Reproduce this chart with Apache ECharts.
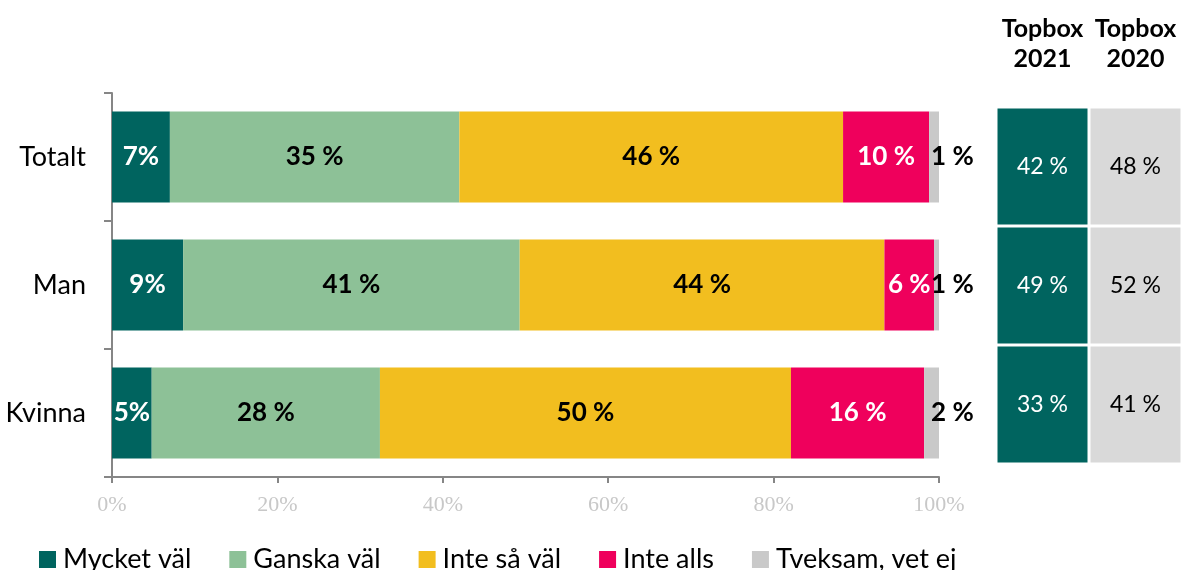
<!DOCTYPE html>
<html>
<head>
<meta charset="utf-8">
<script src="https://cdn.jsdelivr.net/npm/echarts@6/dist/echarts.min.js"></script>
<style>
  * { margin: 0; padding: 0; }
  body { background: #fff; }
</style>
</head>
<body>
<div id="main" style="width:1182px;height:570px;background:white;"></div>
<script>
// kategorier (uppifrån och ner)
var categories = ["Totalt", "Man", "Kvinna"];
var seriesNames = ["Mycket väl", "Ganska väl", "Inte så väl", "Inte alls", "Tveksam, vet ej"];
// andelar i procent
var mycketVal = [7.0, 8.6, 4.8];
var ganskaVal = [35.0, 40.7, 27.6];
var inteSaVal = [46.4, 44.1, 49.7];
var inteAlls = [10.4, 6.0, 16.1];
var tveksam = [1.2, 0.6, 1.8];
// topbox-tabellen
var topboxCols = ["Topbox\n2021", "Topbox\n2020"];
var topbox2021 = [42, 49, 33];
var topbox2020 = [48, 52, 41];

var colors = ["#00645F", "#8DC197", "#F2BE1F", "#EF005C", "#C9C9C9"];
var FONT = "Lato";

var chart = echarts.init(document.getElementById("main"));

function barSeries(name, data, idx, labelColor, noSpace) {
  return {
    name: name,
    type: "bar",
    stack: "total",
    xAxisIndex: 0,
    yAxisIndex: 0,
    barCategoryGap: "29%",
    data: data,
    itemStyle: { color: colors[idx] },
    label: {
      show: true,
      position: "inside",
      color: labelColor,
      fontFamily: FONT,
      fontWeight: "bold",
      fontSize: 26,
      formatter: function (p) {
        return Math.round(p.value) + (noSpace ? "%" : " %");
      }
    }
  };
}

var cells = [];
for (var i = 0; i < categories.length; i++) {
  cells.push([0, i, topbox2021[i]]);
  cells.push([1, i, topbox2020[i]]);
}

var gray = barSeries(seriesNames[4], tveksam, 4, "#000", false);
gray.label.position = "right";
gray.label.distance = 0;
gray.label.offset = [-8, 0];

chart.setOption({
  animation: false,
  legend: {
    left: 34,
    top: 541,
    itemWidth: 17,
    itemHeight: 17,
    itemGap: 38,
    icon: "rect",
    data: seriesNames,
    textStyle: { fontFamily: FONT, fontSize: 27, color: "#000", padding: [0, 0, 0, 2] }
  },
  grid: [
    { left: 112, width: 827, top: 93, height: 384 },
    { left: 996, width: 186, top: 107, height: 357 }
  ],
  xAxis: [
    {
      gridIndex: 0,
      type: "value",
      min: 0,
      max: 100,
      interval: 20,
      axisLine: { show: true, lineStyle: { color: "#868686", width: 2 } },
      axisTick: { show: true, length: 6, lineStyle: { color: "#868686", width: 2 } },
      splitLine: { show: false },
      axisLabel: {
        formatter: "{value}%",
        color: "#C8C8C8",
        fontFamily: "Liberation Serif",
        fontSize: 22,
        margin: 17
      }
    },
    {
      gridIndex: 1,
      type: "category",
      position: "top",
      data: topboxCols,
      axisLine: { show: false },
      axisTick: { show: false },
      axisLabel: {
        interval: 0,
        color: "#000",
        fontFamily: FONT,
        fontWeight: "bold",
        fontSize: 25,
        lineHeight: 30,
        margin: 33
      }
    }
  ],
  yAxis: [
    {
      gridIndex: 0,
      type: "category",
      inverse: true,
      data: categories,
      axisLine: { show: true, lineStyle: { color: "#868686", width: 2 } },
      axisTick: { show: true, length: 8, lineStyle: { color: "#868686", width: 2 } },
      axisLabel: { color: "#000", fontFamily: FONT, fontSize: 27, margin: 26 }
    },
    {
      gridIndex: 1,
      type: "category",
      inverse: true,
      data: categories,
      show: false
    }
  ],
  series: [
    barSeries(seriesNames[0], mycketVal, 0, "#fff", true),
    barSeries(seriesNames[1], ganskaVal, 1, "#000", false),
    barSeries(seriesNames[2], inteSaVal, 2, "#000", false),
    barSeries(seriesNames[3], inteAlls, 3, "#fff", false),
    gray,
    {
      type: "custom",
      xAxisIndex: 1,
      yAxisIndex: 1,
      data: cells,
      renderItem: function (params, api) {
        var c = api.coord([api.value(0), api.value(1)]);
        var s = api.size([1, 1]);
        var col = api.value(0);
        var gap = 1.5;
        return {
          type: "group",
          children: [
            {
              type: "rect",
              shape: { x: c[0] - s[0] / 2 + gap, y: c[1] - s[1] / 2 + gap, width: s[0] - 2 * gap, height: s[1] - 2 * gap },
              style: { fill: col === 0 ? "#00645F" : "#D9D9D9" }
            },
            {
              type: "text",
              x: c[0],
              y: c[1],
              style: {
                text: api.value(2) + " %",
                fill: col === 0 ? "#fff" : "#000",
                font: "23px " + FONT,
                align: "center",
                verticalAlign: "middle"
              }
            }
          ]
        };
      }
    }
  ]
});
</script>
</body>
</html>
